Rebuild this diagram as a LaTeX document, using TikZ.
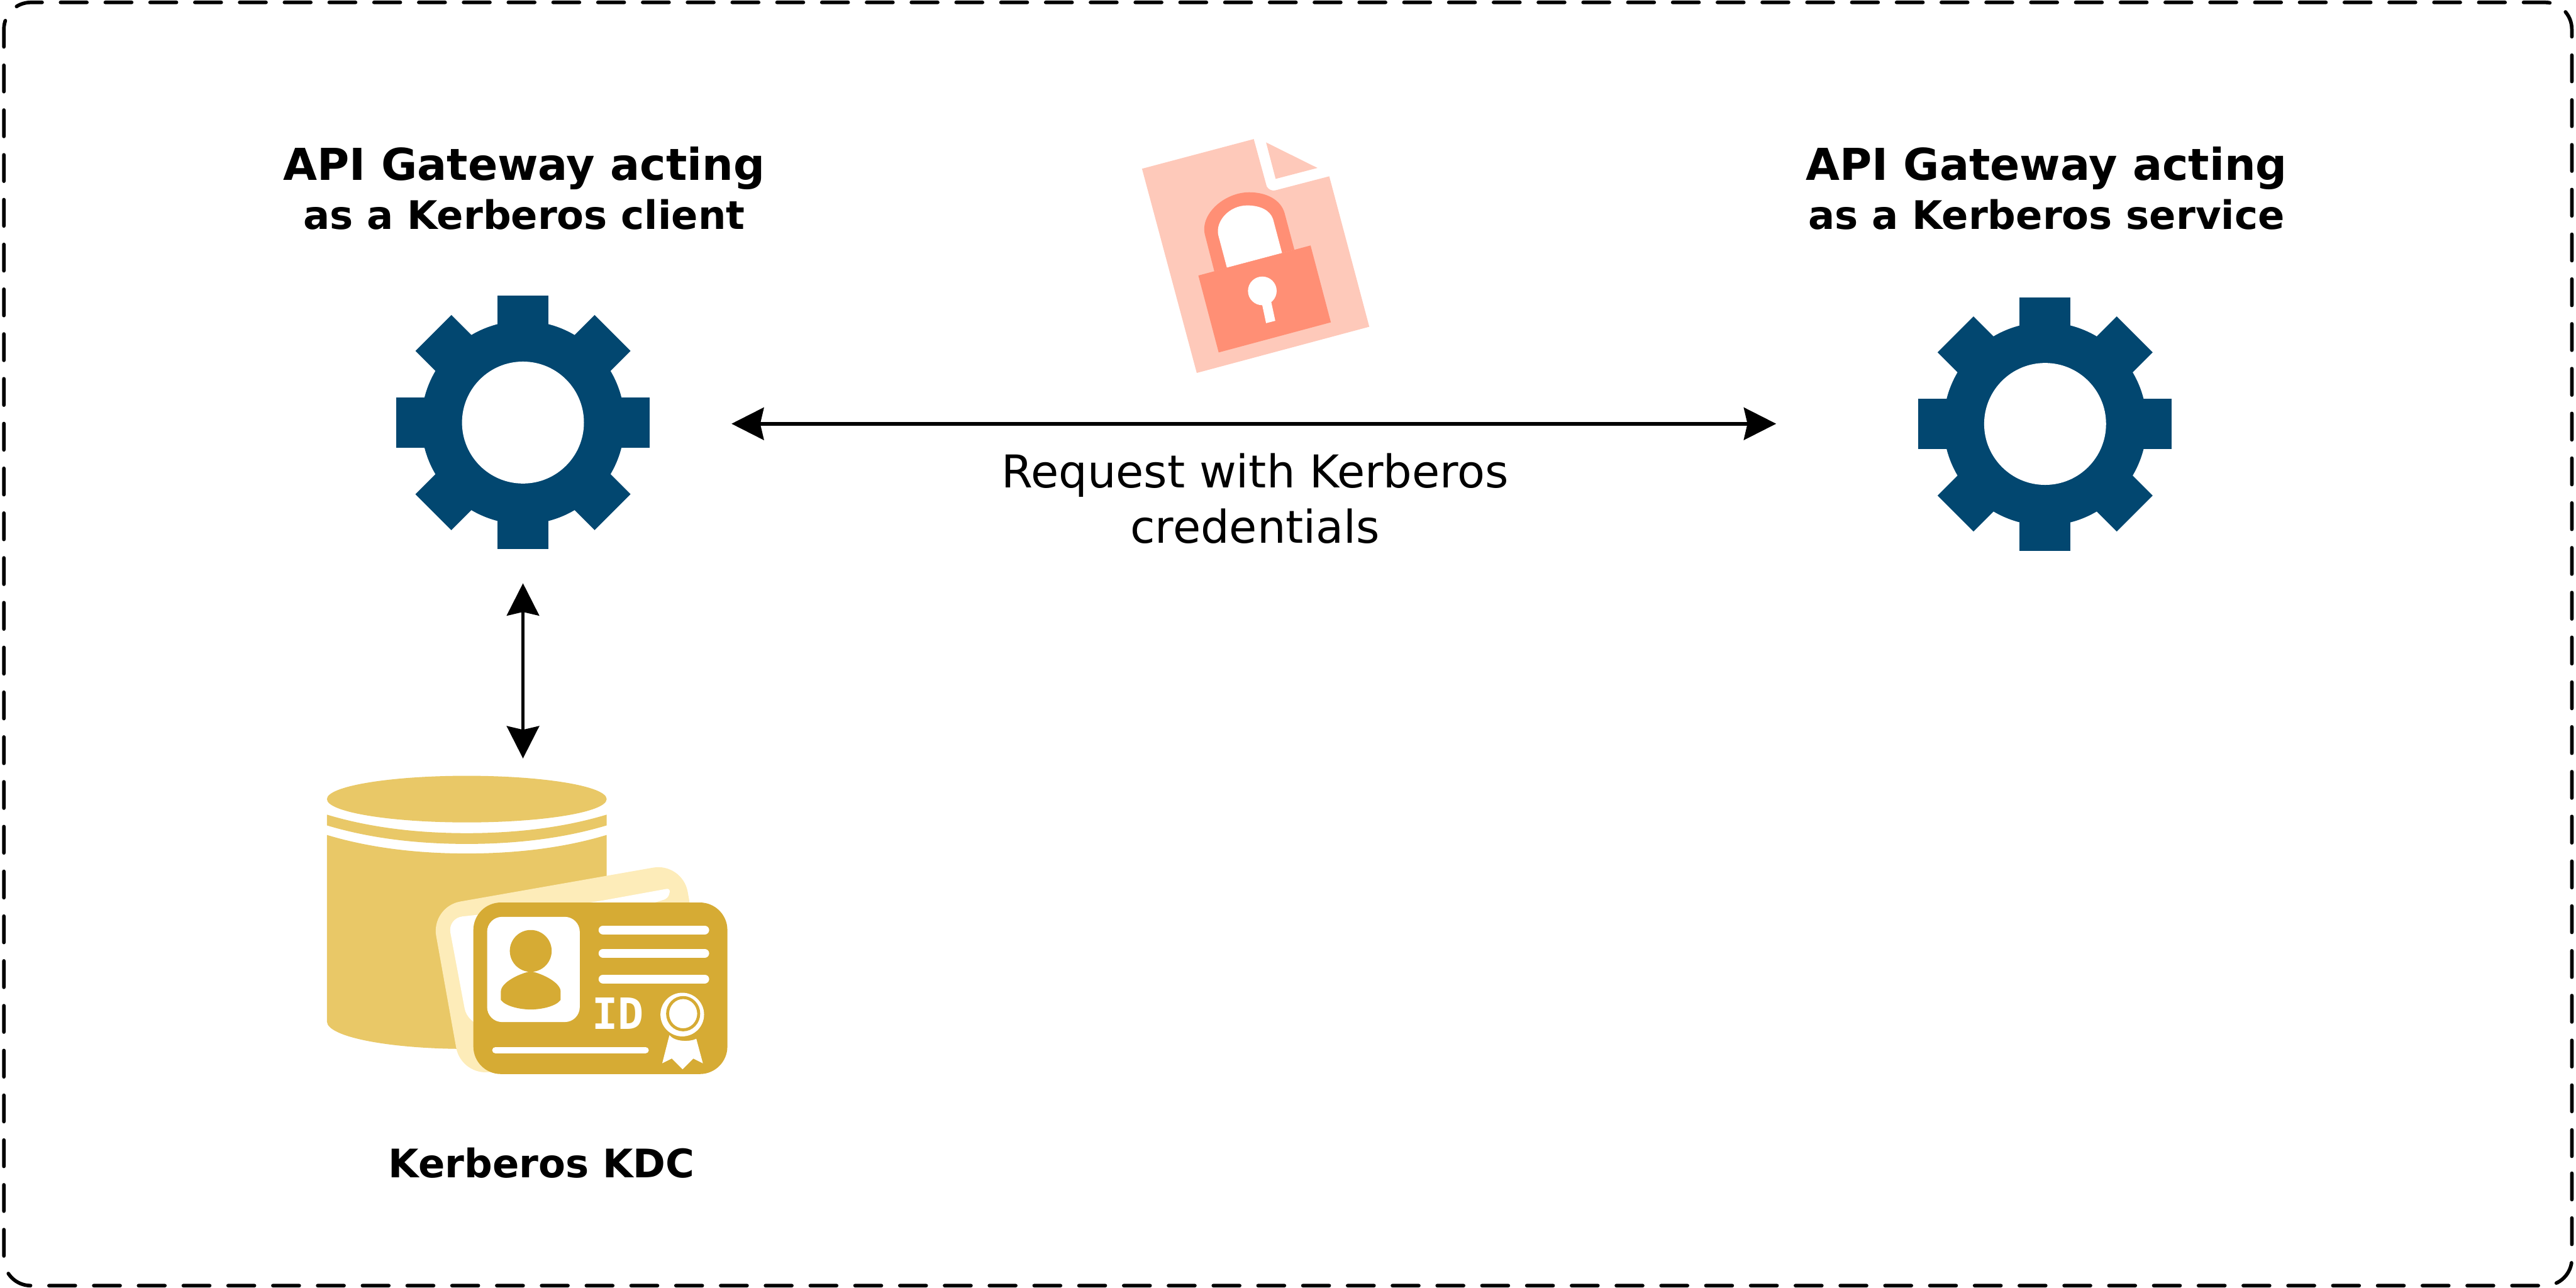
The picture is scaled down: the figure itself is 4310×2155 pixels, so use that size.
\documentclass[tikz,border=0pt]{standalone}
\usepackage{fontspec}
\setmainfont{DejaVu Sans}
\newfontfamily\idfont{DejaVu Sans Mono}
\usetikzlibrary{arrows.meta}

\definecolor{gearblue}{HTML}{024770}
\definecolor{lockdark}{HTML}{FF8F75}
\definecolor{locklight}{HTML}{FEC9BA}
\definecolor{dbgold}{HTML}{E9C867}
\definecolor{cardgold}{HTML}{D6AB34}
\definecolor{cardpale}{HTML}{FDECB9}

\tikzset{
	gearicon/.pic={
		\foreach \a in {0,45,...,315}
			\fill[gearblue, rotate=\a] (-42.5,-212) rectangle (42.5,0);
		\fill[gearblue] (0,0) circle[radius=170];
		\fill[white] (0,0) circle[radius=102];
	},
	anchorbox/.style={minimum width=4.24cm, minimum height=4.24cm, inner sep=0pt},
	titlelabel/.style={font=\fontsize{20.9}{23.6}\selectfont\bfseries, align=center, inner sep=0pt},
	twoway/.style={<->, line width=.06cm},
	frameline/.style={line width=.06cm, line cap=round, dash pattern=on .44cm off .3088cm, rounded corners=.45cm},
	cardline/.style={white, line cap=round, line width=.15cm},
}

\begin{document}
\begin{tikzpicture}[x=.01cm, y=-.01cm, >={Stealth[length=.54cm, width=.54cm, inset=.06cm]}]
	\useasboundingbox (0,0) rectangle (4310,2155);
	\draw[frameline] (4303,1918) -- (4303,2151) -- (6.5,2151) -- (6.5,4) -- (4303,4) -- cycle;

	% gateways
	\pic at (875,707) {gearicon};
	\pic at (3421.7,709.3) {gearicon};
	\node[anchorbox] (client) at (875,709) {};
	\node[anchorbox] (service) at (3421.7,709) {};
	\node[titlelabel] (clienttitle) at (877,315) {API Gateway acting\\{\fontsize{18.7}{23.6}\selectfont as a Kerberos client}};
	\node[titlelabel] (servicetitle) at (3424,315) {API Gateway acting\\{\fontsize{18.7}{23.6}\selectfont as a Kerberos service}};

	% database
	\fill[dbgold] (781,1337) ellipse[x radius=234, y radius=39];
	\fill[dbgold] (547,1363) .. controls (620,1385) and (700,1394) .. (781,1394) .. controls (862,1394) and (942,1385) .. (1015,1363)
		-- (1015,1381) .. controls (942,1403) and (862,1412) .. (781,1412) .. controls (700,1412) and (620,1403) .. (547,1381) -- cycle;
	\fill[dbgold] (547,1397) .. controls (620,1419) and (700,1428) .. (781,1428) .. controls (862,1428) and (942,1419) .. (1015,1397)
		-- (1015,1709) .. controls (1015,1735) and (910,1755) .. (781,1755) .. controls (652,1755) and (547,1735) .. (547,1709) -- cycle;

	% id cards
	\fill[cardpale, rounded corners=.5cm] (721,1517) -- (1142,1443) -- (1192,1728) -- (772,1802) -- cycle;
	\fill[white, rounded corners=.25cm] (749,1536) -- (990,1510) [rounded corners=.07cm] -- (1122,1486) -- (1118,1503) [rounded corners=.25cm] -- (1000,1540) -- (830,1720) -- (782,1712) -- cycle;
	\fill[cardgold, rounded corners=.46cm] (792,1510) rectangle (1217,1797);
	\fill[white, rounded corners=.25cm] (815,1534) rectangle (970,1710);
	\fill[cardgold] (888,1591) circle[radius=35];
	\fill[cardgold] (838,1673) -- (838,1659) .. controls (838,1645) and (865,1630) .. (888,1625) .. controls (911,1630) and (938,1645) .. (938,1659)
		-- (938,1673) .. controls (930,1684) and (905,1689) .. (888,1689) .. controls (871,1689) and (846,1684) .. (838,1673) -- cycle;
	\foreach \y in {1556,1595,1638}
		\draw[cardline] (1009,\y) -- (1179,\y);
	\draw[cardline, line width=.11cm] (829,1757) -- (1080,1757);
	\node[white, inner sep=0pt, font=\idfont\bfseries\fontsize{20.5}{20.5}\selectfont] (idtext) at (1034,1696) {ID};
	\fill[white] (1141.5,1697.5) circle[radius=36.5];
	\draw[cardgold, line width=.05cm] (1143,1696) ellipse[x radius=26, y radius=27];
	\fill[white] (1120,1732) -- (1108,1779) -- (1124,1771) -- (1142,1789) -- (1160,1771) -- (1176,1779) -- (1165,1738)
		.. controls (1155,1743) and (1130,1744) .. (1120,1732) -- cycle;
	\node[anchor=north west, minimum width=6.7cm, minimum height=5cm, inner sep=0pt] (kdc) at (547,1298) {};
	\node[titlelabel, font=\fontsize{18.7}{23.6}\selectfont\bfseries] (kdclabel) at (906,1946) {Kerberos KDC};

	% encrypted file
	\fill[locklight] (1910.7,282.3) -- (2097.7,232.7) -- (2119.3,311.7) [rounded corners=.1cm] -- (2124,321) [sharp corners] -- (2224,295) -- (2291,546.7) -- (2002.3,624) -- cycle;
	\fill[locklight] (2118.3,238.3) -- (2204.3,281) -- (2134.3,299.3) -- cycle;
	\fill[lockdark] (2031.7,454) -- (2015.7,391.7) .. controls (2008.3,356.7) and (2050,321.7) .. (2090,321.7) .. controls (2120,321.7) and (2143.3,335) .. (2149.3,356.7) -- (2165.7,418) -- cycle;
	\fill[white] (2052.7,447.7) -- (2038.3,393.3) .. controls (2033.3,370) and (2056.7,343.7) .. (2086.7,343.7) .. controls (2108.3,343.7) and (2125,351.7) .. (2130,366.7) -- (2145,423.3) -- cycle;
	\fill[lockdark] (2005,461) -- (2192.7,410.7) -- (2226.7,539.3) -- (2039,589.7) -- cycle;
	\fill[white] (2112,486.7) circle[radius=24];
	\fill[white] (2110.7,505) -- (2126,501) -- (2133.7,536.7) -- (2118.3,540.7) -- cycle;

	% connectors
	\draw[twoway, shorten <=1.36cm, shorten >=2.37cm] (client.east) -- (service.west);
	\draw[twoway, shorten <=.54cm, shorten >=.29cm] (client.south) -- (client.south |- kdc.north);
	\node[titlelabel, font=\fontsize{21.5}{26.2}\selectfont] (requestlabel) at (2100,834) {Request with Kerberos\\credentials};
\end{tikzpicture}
\end{document}
